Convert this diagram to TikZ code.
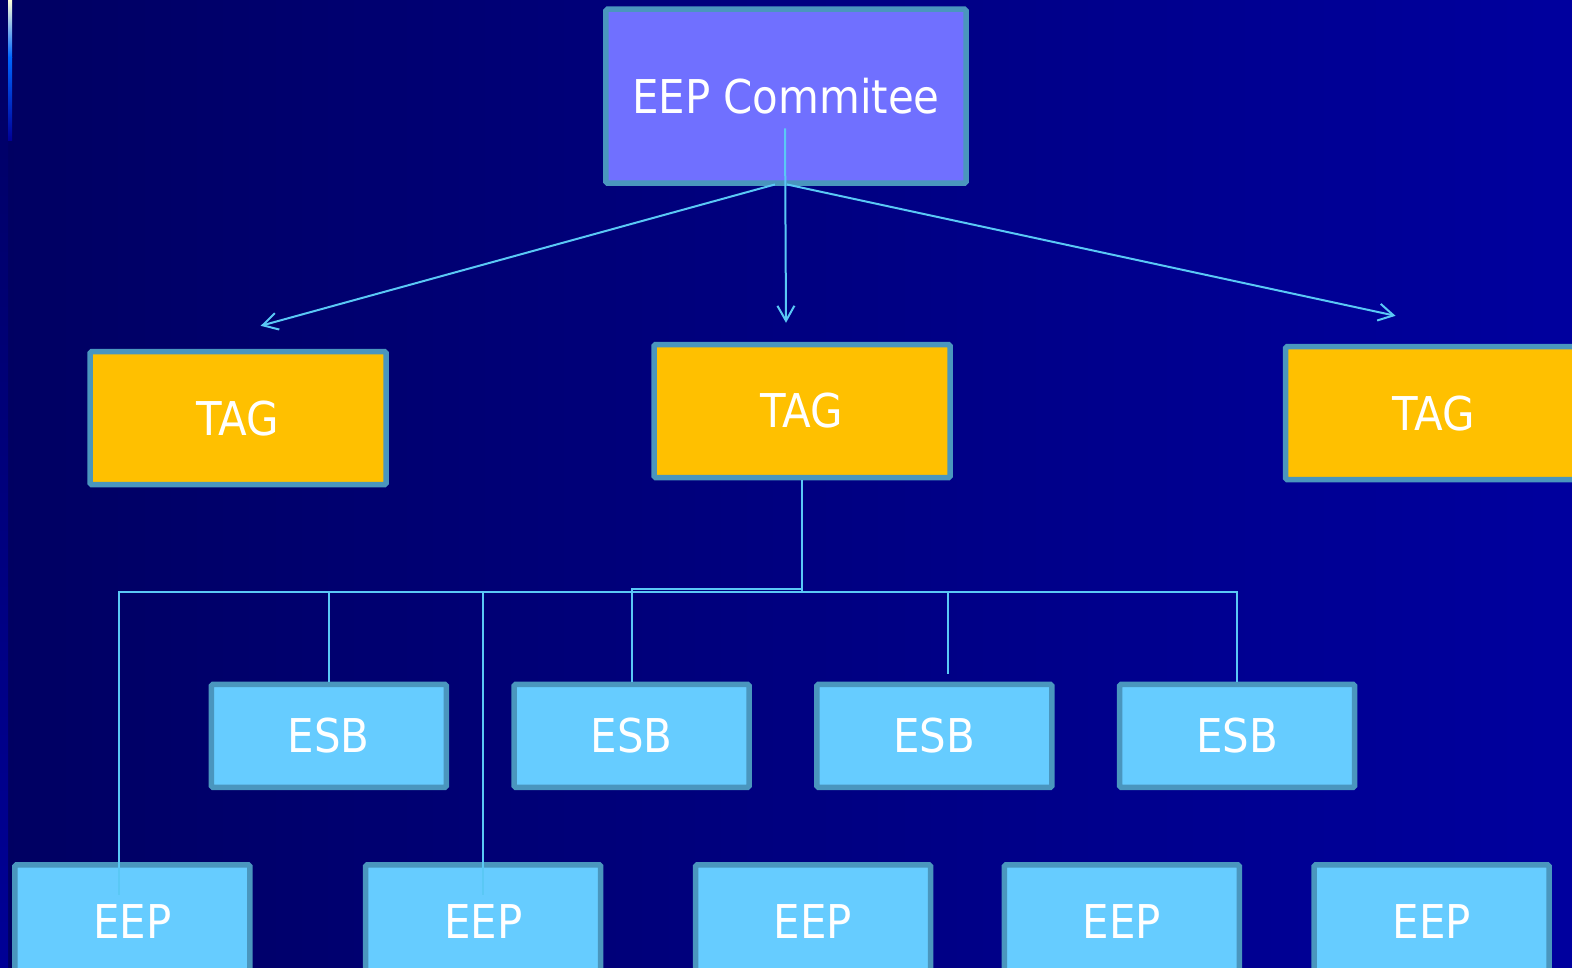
\documentclass[tikz,border=0pt]{standalone}
\usepackage{fontspec}
\setmainfont{DejaVu Sans Condensed}
\usetikzlibrary{arrows.meta,calc}

\definecolor{navyL}{RGB}{0,0,98}
\definecolor{navyR}{RGB}{0,0,158}
\definecolor{edgec}{RGB}{74,150,190}
\definecolor{lilac}{RGB}{112,112,255}
\definecolor{amber}{RGB}{255,192,0}
\definecolor{sky}{RGB}{102,204,255}
\definecolor{wirec}{RGB}{90,200,245}
\definecolor{glow}{RGB}{0,102,255}

\begin{document}
\begin{tikzpicture}[x=0.02005cm,y=-0.02005cm,
  box/.style={draw=edgec,line width=0.11cm,rounded corners=0.03cm,text=white,
              font=\fontsize{26.5}{30}\selectfont,inner sep=0pt},
  topbox/.style={box,fill=lilac,minimum width=7.2cm,minimum height=3.48cm},
  tagbox/.style={box,fill=amber,minimum width=5.92cm,minimum height=2.66cm},
  esbbox/.style={box,fill=sky,minimum width=4.7cm,minimum height=2.06cm},
  eepbox/.style={box,fill=sky,minimum width=4.7cm,minimum height=2.26cm},
  wire/.style={draw=wirec,line width=0.04cm},
  arr/.style={wire,-{Straight Barb[length=0.3cm,width=0.34cm]}}
]
% page frame and backdrop
\useasboundingbox (0,0) rectangle (1568,965);
\clip (0,0) rectangle (1568,965);
\shade[left color=navyL,right color=navyR] (0,0) rectangle (1568,965);
\shade[top color=navyL,bottom color={rgb,255:red,0;green,0;blue,150}] (0,0) rectangle (8,965);
\shade[top color=white!85!yellow,bottom color=glow] (8,0) rectangle (12,57);
\shade[top color=glow,bottom color={rgb,255:red,0;green,0;blue,150}] (8,57) rectangle (12,140);

% boxes
\node[topbox] (com) at (784,96) {EEP Commitee};

\node[tagbox] (tag1) at (237.5,417) {TAG};
\node[tagbox] (tag2) at (800,410) {TAG};
\node[tagbox] (tag3) at (1430,412) {TAG};

\node[esbbox] (esb1) at (328,734) {ESB};
\node[esbbox] (esb2) at (630,734) {ESB};
\node[esbbox] (esb3) at (932,734) {ESB};
\node[esbbox] (esb4) at (1234,734) {ESB};

\node[eepbox] (eep1) at (132,919) {EEP};
\node[eepbox] (eep2) at (482,919) {EEP};
\node[eepbox] (eep3) at (811,919) {EEP};
\node[eepbox] (eep4) at (1119,919) {EEP};
\node[eepbox] (eep5) at (1428,919) {EEP};

% arrows from the committee
\coordinate (aL) at (260,325);
\coordinate (aM) at (784,322);
\coordinate (aR) at (1392,315);
\coordinate (sL) at (773,184);
\coordinate (sM) at (783,128);
\coordinate (sR) at (785,184);
\draw[arr] (sL) -- (aL);
\draw[arr] (sM) -- (aM);
\draw[arr] (sR) -- (aR);

% tree below the middle TAG
\coordinate (hub) at (800,590.5);
\coordinate (hub2) at (800,587.5);
\coordinate (bl) at (119,590.5);
\coordinate (br) at (1234,590.5);
\coordinate (d3) at (946,672);
\coordinate (e1) at (119,893);
\coordinate (e2) at (482,893);
\draw[wire] (tag2.south) -- (hub);
\draw[wire] (bl) -- (br);
\draw[wire] (hub2) -| (esb2.north);
\draw[wire] (hub) -| (esb1.north);
\draw[wire] (hub) -| (d3);
\draw[wire] (hub) -| (esb4.north);
\draw[wire] (hub) -| (e1);
\draw[wire] (hub) -| (e2);
\end{tikzpicture}
\end{document}
